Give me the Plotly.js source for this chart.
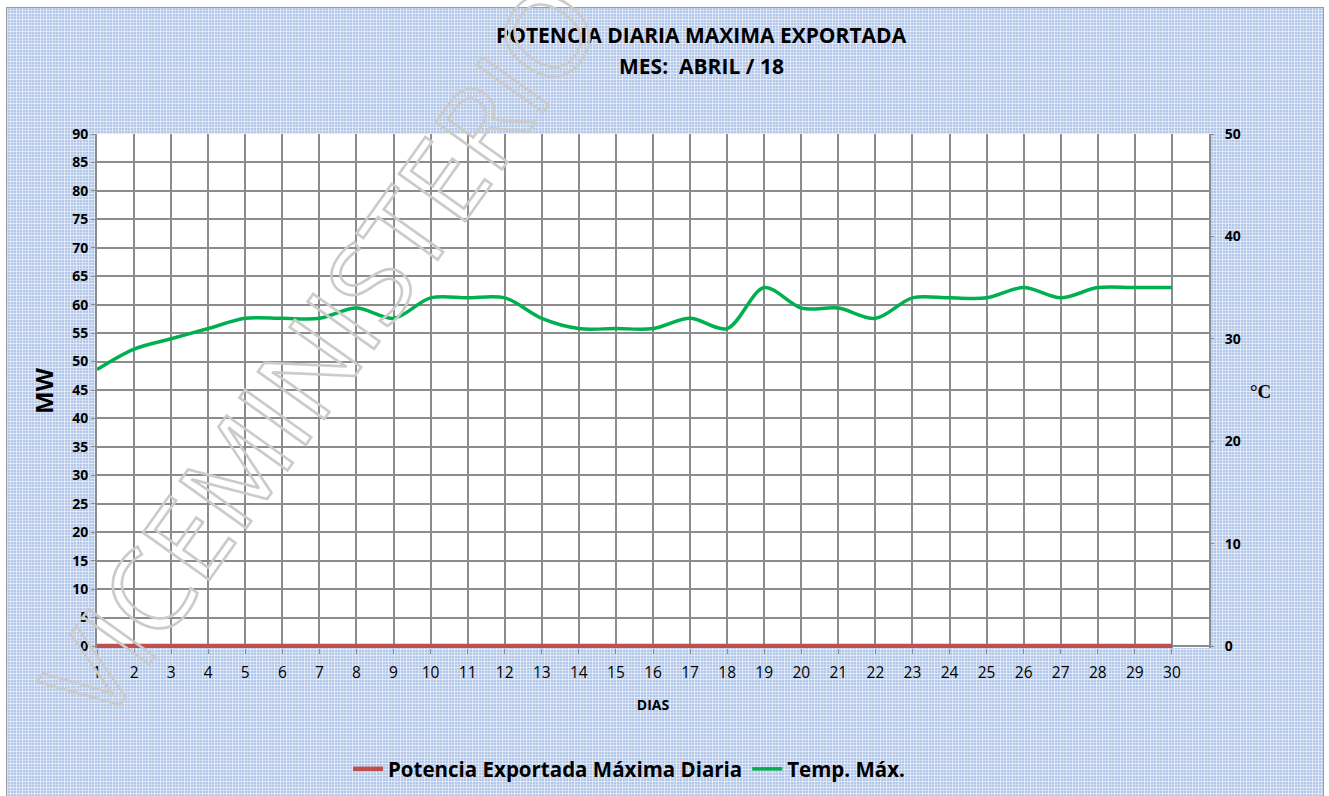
<!DOCTYPE html>
<html>
<head>
<meta charset="utf-8">
<script src="https://cdn.plot.ly/plotly-3.0.1.min.js"></script>
<style>
  html, body { margin:0; padding:0; background:#ffffff; overflow:hidden; }
  #bg {
    position:absolute; left:6px; top:7px; width:1316px; height:795px;
    border:1px solid #9c9c9c;
    background-color:#b4c9ea;
    background-image:
      repeating-linear-gradient(0deg, rgba(255,255,255,0.55) 0px, rgba(255,255,255,0.55) 1px, rgba(0,0,0,0) 1px, rgba(0,0,0,0) 3px),
      repeating-linear-gradient(90deg, rgba(255,255,255,0.55) 0px, rgba(255,255,255,0.55) 1px, rgba(0,0,0,0) 1px, rgba(0,0,0,0) 3px),
      repeating-linear-gradient(0deg, rgba(80,125,200,0.40) 0px, rgba(80,125,200,0.40) 1px, rgba(0,0,0,0) 1px, rgba(0,0,0,0) 6px),
      repeating-linear-gradient(90deg, rgba(80,125,200,0.40) 0px, rgba(80,125,200,0.40) 1px, rgba(0,0,0,0) 1px, rgba(0,0,0,0) 6px);
  }
  #chart { position:absolute; left:0; top:0; width:1329px; height:796px; }
</style>
</head>
<body>
<div id="bg"></div>
<div id="chart"></div>
<script>
// ---- data ----
const days = [1,2,3,4,5,6,7,8,9,10,11,12,13,14,15,16,17,18,19,20,21,22,23,24,25,26,27,28,29,30];
const dayLabels = ["1","2","3","4","5","6","7","8","9","10","11","12","13","14","15","16","17","18","19","20","21","22","23","24","25","26","27","28","29","30"];
const potenciaMW = [0,0,0,0,0,0,0,0,0,0,0,0,0,0,0,0,0,0,0,0,0,0,0,0,0,0,0,0,0,0];
const tempMax = [27,29,30,31,32,32,32,33,32,34,34,34,32,31,31,31,32,31,35,33,33,32,34,34,34,35,34,35,35,35];
const seriesNames = ["Potencia Exportada Máxima Diaria", "Temp. Máx."];
const titleLine1 = "POTENCIA DIARIA MAXIMA EXPORTADA";
const titleLine2 = "MES:  ABRIL / 18";
const watermark = "VICEMINISTERIO";

const FONT = "Open Sans, Noto Sans, sans-serif";
const GRID = "#8c8c8c";

// plot-area geometry (pixels) used to place decorative text in paper coords
const L = 97, T = 134, R = 120, B = 148, W = 1329, H = 796;
const PW = W - L - R, PH = H - T - B;
const px = v => (v - L) / PW;
const py = v => (H - B - v) / PH;
const pad = 0.35; // keep the zero line fully visible

const traces = [
  {
    x: days, y: potenciaMW, name: seriesNames[0], type: "scatter", mode: "lines",
    line: { color: "#c0504d", width: 4.5 }, yaxis: "y"
  },
  {
    x: days, y: tempMax, name: seriesNames[1], type: "scatter", mode: "lines",
    line: { color: "#00b050", width: 3.5, shape: "spline", smoothing: 0.9 }, yaxis: "y2"
  }
];

const layout = {
  width: W, height: H,
  margin: { l: L, r: R, t: T, b: B, autoexpand: false },
  paper_bgcolor: "rgba(0,0,0,0)",
  plot_bgcolor: "#ffffff",
  font: { family: FONT, color: "#000000" },
  showlegend: true,
  legend: {
    orientation: "h", x: px(629), xanchor: "center", y: py(769), yanchor: "middle",
    font: { family: FONT, size: 20.5, weight: "bold", color: "#000" },
    bgcolor: "rgba(0,0,0,0)", traceorder: "normal"
  },
  xaxis: {
    range: [1, 31],
    tickmode: "array", tickvals: days, ticktext: dayLabels,
    showgrid: true, gridcolor: GRID, gridwidth: 2,
    zeroline: false, showline: false,
    ticks: "outside", ticklen: 5, tickcolor: GRID, tickwidth: 1,
    ticklabelstandoff: 5,
    tickfont: { family: FONT, size: 15.5, color: "#000" },
    title: { text: "DIAS", font: { family: FONT, size: 14, weight: "bold", color: "#000" }, standoff: 18 },
    fixedrange: true
  },
  yaxis: {
    range: [-pad, 90], tickmode: "linear", dtick: 5, tick0: 0,
    showgrid: true, gridcolor: GRID, gridwidth: 2,
    zeroline: false,
    showline: true, linecolor: GRID, linewidth: 2, mirror: true,
    ticks: "outside", ticklen: 4, tickcolor: GRID, tickwidth: 1,
    tickfont: { family: FONT, size: 14, weight: "bold", color: "#000" },
    title: { text: "MW", font: { family: FONT, size: 24, weight: "bold", color: "#000" }, standoff: 12 },
    fixedrange: true
  },
  yaxis2: {
    range: [-pad * 50 / 90, 50], tickmode: "linear", dtick: 10, tick0: 0,
    overlaying: "y", side: "right",
    showgrid: false, zeroline: false, showline: false,
    ticks: "outside", ticklen: 4, tickcolor: GRID, tickwidth: 1,
    ticklabelstandoff: 8,
    tickfont: { family: FONT, size: 14, weight: "bold", color: "#000" },
    fixedrange: true
  },
  annotations: [
    { text: titleLine1, xref: "paper", yref: "paper", x: px(701), y: py(35), xanchor: "center", yanchor: "middle",
      showarrow: false, font: { family: FONT, size: 21, weight: "bold", color: "#000" } },
    { text: titleLine2, xref: "paper", yref: "paper", x: px(702), y: py(66), xanchor: "center", yanchor: "middle",
      showarrow: false, font: { family: FONT, size: 21, weight: "bold", color: "#000" } },
    { text: "°C", xref: "paper", yref: "paper", x: px(1260), y: py(391), xanchor: "center", yanchor: "middle",
      showarrow: false, font: { family: "Liberation Serif, DejaVu Serif, serif", size: 19, weight: "bold", color: "#000" } },
    { text: watermark, xref: "paper", yref: "paper", x: px(318), y: py(350), xanchor: "center", yanchor: "middle",
      textangle: -54.5, showarrow: false,
      font: { family: "Open Sans, sans-serif", size: 114, color: "#cccccc" } }
  ]
};

Plotly.newPlot("chart", traces, layout, { displayModeBar: false, staticPlot: true }).then(function (gd) {
  gd.querySelectorAll(".annotation-text").forEach(function (t) {
    if (t.textContent === watermark) {
      t.style.fill = "none";
      t.style.stroke = "#cbcbcb";
      t.style.strokeWidth = "2.6px";
    }
  });
});
</script>
</body>
</html>
